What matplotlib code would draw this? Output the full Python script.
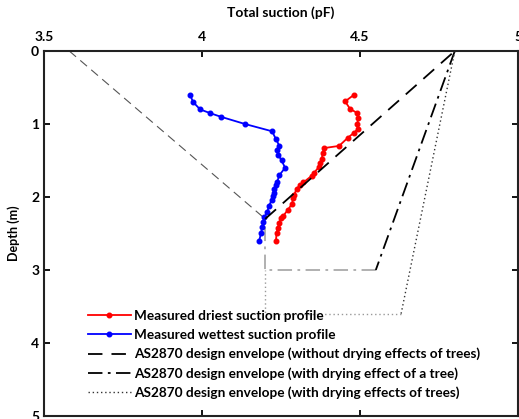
import matplotlib
matplotlib.use("Agg")
import matplotlib.pyplot as plt

plt.rcParams['font.family'] = ['Lato', 'DejaVu Sans']
plt.rcParams['font.weight'] = 'bold'

# Measured driest profile (red)
dry_suction = [4.481, 4.453, 4.468, 4.491, 4.495, 4.491, 4.493, 4.481, 4.461, 4.434,
               4.386, 4.382, 4.379, 4.373, 4.370, 4.354, 4.347, 4.321, 4.310, 4.300,
               4.291, 4.289, 4.284, 4.271, 4.257, 4.250, 4.245, 4.241, 4.236, 4.234]
dry_depth = [0.60, 0.69, 0.79, 0.85, 0.92, 1.00, 1.07, 1.12, 1.19, 1.30,
             1.33, 1.40, 1.48, 1.53, 1.59, 1.67, 1.71, 1.80, 1.83, 1.89,
             1.97, 2.02, 2.10, 2.18, 2.26, 2.29, 2.35, 2.42, 2.49, 2.60]

# Measured wettest profile (blue)
wet_suction = [3.962, 3.972, 3.994, 4.025, 4.059, 4.136, 4.222, 4.233, 4.245, 4.238,
               4.241, 4.252, 4.263, 4.245, 4.238, 4.233, 4.229, 4.228, 4.226, 4.221,
               4.212, 4.207, 4.197, 4.194, 4.191, 4.187, 4.181]
wet_depth = [0.60, 0.70, 0.80, 0.85, 0.90, 1.00, 1.10, 1.20, 1.30, 1.36,
             1.42, 1.50, 1.60, 1.70, 1.79, 1.84, 1.89, 1.94, 1.99, 2.04,
             2.12, 2.20, 2.28, 2.34, 2.41, 2.49, 2.60]

# AS2870 design envelopes
env_left_suction = [3.58, 4.20]
env_left_depth = [0.0, 2.30]
env_no_tree_suction = [4.20, 4.80]
env_no_tree_depth = [2.30, 0.0]

env_tree_suction = [4.80, 4.55]
env_tree_depth = [0.0, 3.0]
env_tree_base_suction = [4.55, 4.20, 4.20]
env_tree_base_depth = [3.0, 3.0, 2.30]

env_trees_suction = [4.80, 4.63, 4.20, 4.20]
env_trees_depth = [0.0, 3.6, 3.6, 3.0]

xticks = [3.5, 4, 4.5, 5]
xticklabels = ['3.5', '4', '4.5', '5']
yticks = [0, 1, 2, 3, 4, 5]

fig = plt.figure(figsize=(5.19, 4.19), dpi=100)
ax = fig.add_axes([44/519, 1-416/419, (518-44)/519, (416-51)/419])

ax.plot(env_left_suction, env_left_depth, color='#555555', lw=0.8, dashes=(8, 5))
ax.plot(env_tree_base_suction, env_tree_base_depth, color='#aaaaaa', lw=1.3,
        dashes=(8, 3, 1.5, 3))
ax.plot(env_trees_suction[1:], env_trees_depth[1:], color='#999999', lw=1.0, ls=(0, (1, 2)))

l1, = ax.plot(dry_suction, dry_depth, color='red', lw=1.3, marker='o', ms=3.3,
              label='Measured driest suction profile')
l2, = ax.plot(wet_suction, wet_depth, color='blue', lw=1.3, marker='o', ms=3.3,
              label='Measured wettest suction profile')
l3, = ax.plot(env_no_tree_suction, env_no_tree_depth, color='black', lw=1.3, dashes=(8, 5),
              label='AS2870 design envelope (without drying effects of trees)')
l4, = ax.plot(env_tree_suction, env_tree_depth, color='black', lw=1.3, dashes=(8, 3, 1.5, 3),
              label='AS2870 design envelope (with drying effect of a tree)')
l5, = ax.plot(env_trees_suction[:2], env_trees_depth[:2], color='#333333', lw=1.0, ls=(0, (1, 2)),
              label='AS2870 design envelope (with drying effects of trees)')

ax.set_xlim(3.5, 5)
ax.set_ylim(5, 0)
ax.set_xticks(xticks)
ax.set_xticklabels(xticklabels)
ax.set_yticks(yticks)
ax.xaxis.tick_top()
ax.xaxis.set_label_position('top')
ax.tick_params(axis='both', which='both', direction='in', length=4, width=1.3,
               labelsize=10, top=True, bottom=True, left=True, right=True)
ax.tick_params(axis='x', pad=6)
for lab in ax.get_xticklabels() + ax.get_yticklabels():
    lab.set_fontweight('bold')
for s in ax.spines.values():
    s.set_linewidth(1.5)
    s.set_color('#222222')

ax.set_xlabel('Total suction (pF)', fontsize=10, fontweight='bold', labelpad=10)
ax.set_ylabel('Depth (m)', fontsize=9, fontweight='bold', labelpad=8)

leg = ax.legend(handles=[l1, l2, l3, l4, l5], loc='upper left',
                bbox_to_anchor=(0.082, 0.305), frameon=False,
                handlelength=3.1, handletextpad=0.25, labelspacing=0.5,
                borderaxespad=0, prop={'weight': 'bold', 'size': 9.8})

fig.savefig('out.png', dpi=100)
